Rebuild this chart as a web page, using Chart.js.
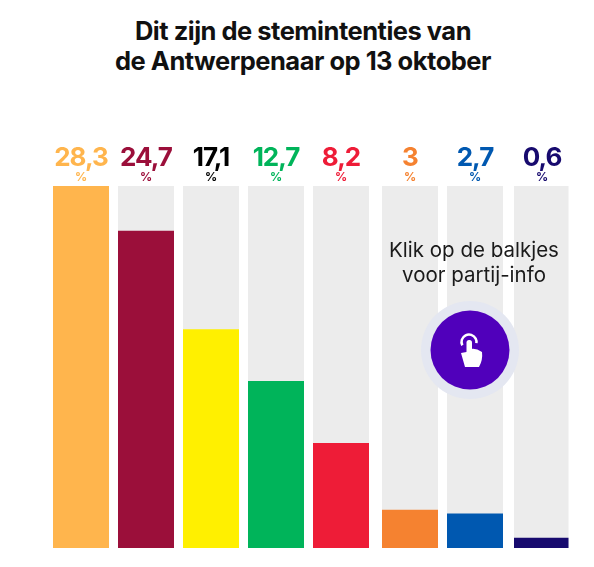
<!DOCTYPE html>
<html lang="nl">
<head>
<meta charset="utf-8">
<title>Stemintenties Antwerpen</title>
<script src="https://cdn.jsdelivr.net/npm/chart.js@4"></script>
<style>
    body { margin: 0; background: #fff; }
    #wrap { position: relative; width: 594px; height: 567px; overflow: hidden; }
    h1 {
        position: absolute; left: 3px; width: 600px; top: 16px; margin: 0;
        text-align: center; font: 700 25.5px/30px "Inter", sans-serif; color: #111;
        letter-spacing: -0.5px;
    }
    canvas { position: absolute; left: 0; top: 0; }
</style>
</head>
<body>
<div id="wrap">
    <h1>Dit zijn de stemintenties van<br>de Antwerpenaar op 13 oktober</h1>
    <canvas id="votes-chart" width="594" height="567"></canvas>
</div>
<script>
// Data (bar lengths, printed labels can differ a little)
const parties = ['N-VA', 'sp.a-Groen', 'Vlaams Belang', 'Groen', 'PVDA', 'Open Vld', 'CD&V', 'Andere'];
const votes = [28.3, 24.8, 17.1, 13.05, 8.2, 3, 2.7, 0.8];
const voteLabels = ['28,3', '24,7', '17,1', '12,7', '8,2', '3', '2,7', '0,6'];
const barColors = ['#ffb54d', '#9b0f3a', '#fff000', '#00b45a', '#ee1c37', '#f58230', '#0058b0', '#170a6e'];
const labelColors = ['#ffb54d', '#9b0f3a', '#000000', '#00b45a', '#ee1c37', '#f58230', '#0058b0', '#170a6e'];
const trackValues = [28.3, 28.3, 28.3, 28.3, 28.3, 28.3, 28.3, 28.3];

// last three columns sit a bit further apart than the others
const columnNudge = [0, 0, 0, 0, 0, 4, 4, 6];

const nudgePlugin = {
    id: 'nudge',
    afterDatasetsUpdate(chart) {
        chart.data.datasets.forEach((ds, d) => {
            chart.getDatasetMeta(d).data.forEach((bar, i) => {
                bar.x += columnNudge[i];
            });
        });
    }
};

const labelPlugin = {
    id: 'valueLabels',
    afterDatasetsDraw(chart) {
        const ctx = chart.ctx;
        const top = chart.chartArea.top;
        ctx.save();
        ctx.textAlign = 'center';
        ctx.textBaseline = 'alphabetic';
        chart.getDatasetMeta(0).data.forEach((bar, i) => {
            ctx.fillStyle = labelColors[i];
            ctx.font = '700 26px "Inter", sans-serif';
            ctx.letterSpacing = '-1px';
            ctx.fillText(voteLabels[i], bar.x, top - 20);
            ctx.letterSpacing = '0px';
            ctx.font = '700 12px "Inter", sans-serif';
            ctx.fillText('%', bar.x, top - 5);
        });
        ctx.restore();
    }
};

const hintPlugin = {
    id: 'clickHint',
    afterDraw(chart) {
        const ctx = chart.ctx;
        const cx = 470, cy = 350;
        ctx.save();
        ctx.textAlign = 'center';
        ctx.fillStyle = '#1a1a1a';
        ctx.font = '400 20.5px "Inter", sans-serif';
        ctx.fillText('Klik op de balkjes', 474, 257);
        ctx.fillText('voor partij-info', 474, 282);

        ctx.fillStyle = '#e4e7f1';
        ctx.beginPath();
        ctx.arc(cx, cy, 49, 0, Math.PI * 2);
        ctx.fill();
        ctx.fillStyle = '#5000bb';
        ctx.beginPath();
        ctx.arc(cx, cy, 39.5, 0, Math.PI * 2);
        ctx.fill();

        // hand icon
        ctx.strokeStyle = '#fff';
        ctx.lineWidth = 2.5;
        ctx.beginPath();
        ctx.arc(cx - 1, cy - 8, 7.5, Math.PI * 0.85, Math.PI * 2.05);
        ctx.stroke();
        ctx.fillStyle = '#fff';
        ctx.beginPath();
        ctx.roundRect(cx - 3.5, cy - 10, 5.5, 18, 2.5);
        ctx.fill();
        ctx.beginPath();
        ctx.moveTo(cx - 3.5, cy + 2);
        ctx.lineTo(cx - 9, cy + 3);
        ctx.lineTo(cx - 5, cy + 17);
        ctx.lineTo(cx + 9, cy + 17);
        ctx.quadraticCurveTo(cx + 13, cy + 10, cx + 12, cy + 2);
        ctx.quadraticCurveTo(cx + 6, cy - 2, cx + 1, cy - 1);
        ctx.closePath();
        ctx.fill();
        ctx.restore();
    }
};

new Chart(document.getElementById('votes-chart').getContext('2d'), {
    type: 'bar',
    data: {
        labels: parties,
        datasets: [
            {
                label: 'Stemintentie',
                data: votes,
                backgroundColor: barColors,
                categoryPercentage: 1,
                barPercentage: 56 / 65,
                order: 1
            },
            {
                label: 'Achtergrond',
                data: trackValues,
                backgroundColor: '#ececec',
                categoryPercentage: 1,
                barPercentage: 56 / 65,
                order: 2
            }
        ]
    },
    options: {
        responsive: false,
        animation: false,
        devicePixelRatio: 1,
        layout: { padding: { left: 48.5, right: 25.5, top: 186, bottom: 19 } },
        plugins: {
            legend: { display: false },
            tooltip: { enabled: false }
        },
        scales: {
            x: { display: false, stacked: true },
            y: { display: false, min: 0, max: 28.3 }
        }
    },
    plugins: [nudgePlugin, labelPlugin, hintPlugin]
});
</script>
</body>
</html>
